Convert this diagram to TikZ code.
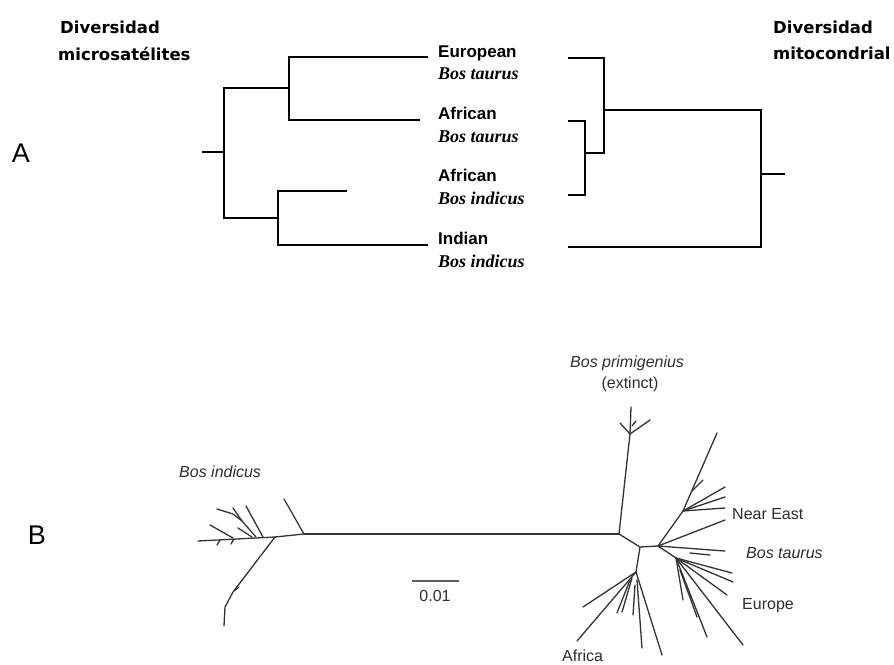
\documentclass[tikz,border=0pt]{standalone}
\usepackage{fontspec}
\setmainfont{Liberation Sans}
\newfontfamily\serifb{Liberation Serif}
\newfontfamily\divfont{DejaVu Sans}
\definecolor{bgray}{HTML}{333333}
\definecolor{tgray}{HTML}{2E2E2E}
\tikzset{
  lab/.style={anchor=base west, inner sep=0pt, font=\fontsize{17}{17}\selectfont\bfseries},
  spec/.style={anchor=base west, inner sep=0pt, font=\fontsize{18}{18}\selectfont\serifb\bfseries\itshape},
  divt/.style={anchor=base west, inner sep=0pt, font=\fontsize{16.5}{16.5}\selectfont\divfont\bfseries},
  panel/.style={anchor=center, inner sep=0pt, font=\fontsize{27}{27}\selectfont},
  btxt/.style={anchor=base west, inner sep=0pt, text=tgray, font=\fontsize{16}{16}\selectfont},
  treeA/.style={line width=2.3pt, draw=black, line join=miter},
  treeB/.style={line width=1.3pt, draw=bgray, line cap=round, line join=round},
}
\begin{document}
\begin{tikzpicture}[x=1pt, y=-1pt]
\path[use as bounding box, fill=white] (0,0) rectangle (894,664);

% ---------- Panel A ----------
\node[panel] (pA) at (21,153) {A};
\node[divt] (dl1) at (60,33) {Diversidad};
\node[divt] (dl2) at (58,60) {microsatélites};
\node[divt] (dr1) at (773,33) {Diversidad};
\node[divt] (dr2) at (773,59) {mitocondrial};

\node[lab]  (eu)  at (438,57)  {European};
\node[spec] (eus) at (438,79)  {Bos taurus};
\node[lab]  (at)  at (438,119) {African};
\node[spec] (ats) at (438,142) {Bos taurus};
\node[lab]  (ai)  at (438,181) {African};
\node[spec] (ais) at (438,204) {Bos indicus};
\node[lab]  (ind) at (438,244) {Indian};
\node[spec] (inds) at (438,267) {Bos indicus};

% left dendrogram (microsatellites)
\coordinate (lroot) at (202,152);
\coordinate (lr)  at (224,152);
\coordinate (lt)  at (289,88);
\coordinate (lb)  at (278,218);
\coordinate (leu) at (428,57);
\coordinate (lat) at (420,120);
\coordinate (lai) at (347,191);
\coordinate (lin) at (428,245);
\draw[treeA] (lroot) -- (lr);
\draw[treeA] (lt) -- (lt -| lr) -- (lb -| lr) -- (lb);
\draw[treeA] (leu) -- (leu -| lt) -- (lat -| lt) -- (lat);
\draw[treeA] (lai) -- (lai -| lb) -- (lin -| lb) -- (lin);

% right dendrogram (mitochondrial)
\coordinate (reu) at (568,58);
\coordinate (rat) at (568,121);
\coordinate (rai) at (568,195);
\coordinate (rin) at (568,247);
\coordinate (rn1) at (585,158);
\coordinate (rn2) at (604,110);
\coordinate (rr)  at (761,174);
\coordinate (rroot) at (785,174);
\draw[treeA] (rat) -- (rat -| rn1) -- (rai -| rn1) -- (rai);
\draw[treeA] (reu) -- (reu -| rn2) -- (604,153) -- (585,153);
\draw[treeA] (rn2) -- (rn2 -| rr) -- (rin -| rr) -- (rin);
\draw[treeA] (rr) -- (rroot);

% ---------- Panel B ----------
\node[panel] (pB) at (37,535) {B};
\node[btxt, font=\fontsize{16}{16}\selectfont\itshape] (bi) at (179,477) {Bos indicus};
\node[btxt, font=\fontsize{16}{16}\selectfont\itshape] (bp) at (570,367) {Bos primigenius};
\node[btxt, anchor=base] (ex) at (630,388) {(extinct)};
\node[btxt] (ne) at (732,519) {Near East};
\node[btxt, font=\fontsize{16}{16}\selectfont\itshape] (bt) at (746,558) {Bos taurus};
\node[btxt] (euB) at (742,609) {Europe};
\node[btxt] (af) at (562,661) {Africa};

% scale bar
\coordinate (s1) at (412,581);
\coordinate (s2) at (459,581);
\draw[line width=1.6pt, draw=bgray!80] (s1) -- (s2);
\node[btxt, anchor=base] (sc) at (435,601) {0.01};

% internal nodes
\coordinate (L0) at (304,534);
\coordinate (L1) at (275,537);
\coordinate (L2) at (198,541);
\coordinate (N1) at (619,534);
\coordinate (U)  at (630,434);
\coordinate (N2) at (640,547);
\coordinate (N3) at (658,546);
\coordinate (NA) at (636,572);
\coordinate (NE) at (683,511);
\coordinate (NEu) at (676,558);

% Bos indicus side
\draw[treeB] (L0) -- (N1);
\draw[treeB] (L0) -- (284,499);
\draw[treeB] (L0) -- (L1);
\draw[treeB] (L1) -- (233,592) -- (225,607) -- (224,626);
\draw[treeB] (234,591) -- (239,587);
\draw[treeB] (L1) -- (L2);
\draw[treeB] (263,537) -- (246,506);
\coordinate (S1) at (256,537);
\coordinate (S2) at (242,521);
\draw[treeB] (S1) -- (S2) -- (233,508);
\draw[treeB] (S2) -- (233,514) -- (217,509);
\draw[treeB] (233,538) -- (210,525);
\draw[treeB] (252,537) -- (238,528);
\draw[treeB] (220,540) -- (217,545);
\draw[treeB] (234,539) -- (231,544);

% Bos primigenius
\draw[treeB] (N1) -- (U);
\draw[treeB] (U) -- (620,423);
\draw[treeB] (U) -- (650,420);
\draw[treeB] (U) -- (631,407);
\draw[treeB] (632,426) -- (636,421);

% taurus trunk
\draw[treeB] (N1) -- (N2) -- (N3);

% Africa
\draw[treeB] (N2) -- (NA);
\draw[treeB] (NA) -- (583,607);
\draw[treeB] (NA) -- (577,641);
\draw[treeB] (630,580) -- (617,613);
\draw[treeB] (632,578) -- (622,612);
\draw[treeB] (635,585) -- (633,615);
\draw[treeB] (637,580) -- (642,648);
\draw[treeB] (NA) -- (662,655);

% Near East
\draw[treeB] (N3) -- (NE) -- (717,433);
\draw[treeB] (NE) -- (725,487);
\draw[treeB] (NE) -- (725,497);
\draw[treeB] (NE) -- (725,508);
\draw[treeB] (692,491) -- (703,480);
\draw[treeB] (N3) -- (725,520);

% Bos taurus / Europe
\draw[treeB] (N3) -- (725,551);
\draw[treeB] (690,553) -- (710,555);
\draw[treeB] (N3) -- (NEu);
\draw[treeB] (NEu) -- (732,573);
\draw[treeB] (NEu) -- (733,582);
\draw[treeB] (NEu) -- (727,595);
\draw[treeB] (NEu) -- (683,600);
\draw[treeB] (NEu) -- (707,637);
\draw[treeB] (NEu) -- (743,645);
\draw[treeB] (680,570) -- (697,617);
\end{tikzpicture}
\end{document}
